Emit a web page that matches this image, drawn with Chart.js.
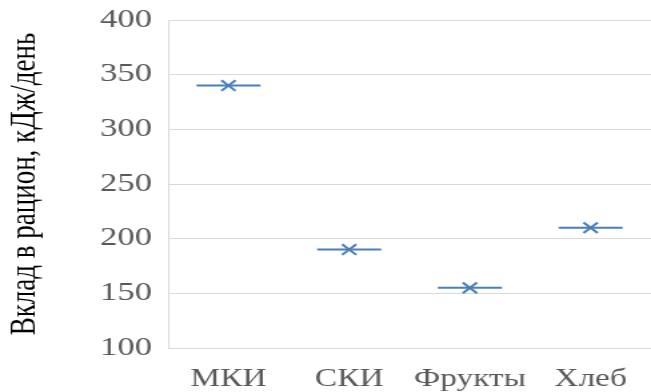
<!DOCTYPE html>
<html>
<head>
<meta charset="utf-8">
<script src="https://cdn.jsdelivr.net/npm/chart.js@4/dist/chart.umd.min.js"></script>
<style>
html,body{margin:0;padding:0;background:#fff;overflow:hidden;}
#wrap{width:488px;height:392px;transform:scaleX(1.334);transform-origin:0 0;}
</style>
</head>
<body>
<div id="wrap"><canvas id="c" width="488" height="392"></canvas></div>
<script>
const categories = ['МКИ', 'СКИ', 'Фрукты', 'Хлеб'];
const values = [340, 190, 155, 210];
const yTicks = [100, 150, 200, 250, 300, 350, 400];
const yTitle = 'Вклад в рацион, кДж/день';

const blue = '#4a7ebb';
const grey = '#595959';
const gridC = '#d9d9d9';
const serif = "'Liberation Serif', 'Times New Roman', serif";

new Chart(document.getElementById('c'), {
  type: 'line',
  data: {
    labels: categories,
    datasets: [
      {
        data: values,
        showLine: false,
        clip: false,
        pointStyle: 'line',
        pointRadius: 24,
        pointBorderWidth: 2,
        pointBorderColor: blue,
        pointBackgroundColor: blue
      },
      {
        data: values,
        showLine: false,
        clip: false,
        pointStyle: 'crossRot',
        pointRadius: 7.5,
        pointBorderWidth: 2,
        pointBorderColor: blue,
        pointBackgroundColor: blue
      }
    ]
  },
  options: {
    responsive: false,
    animation: false,
    events: [],
    layout: { autoPadding: false, padding: { top: 20, right: 0, left: 0, bottom: 0 } },
    plugins: { legend: { display: false }, tooltip: { enabled: false } },
    scales: {
      x: {
        type: 'category',
        offset: true,
        grid: { display: false, drawTicks: false },
        border: { display: true, color: gridC, width: 1 },
        ticks: { color: grey, font: { family: serif, size: 25 }, padding: 16, maxRotation: 0, autoSkip: false },
        afterFit: s => { s.height = 44; s.paddingLeft = 0; s.paddingRight = 0; }
      },
      y: {
        min: 100,
        max: 400,
        afterBuildTicks: s => { s.ticks = yTicks.map(v => ({ value: v })); },
        grid: { color: gridC, lineWidth: 1, drawTicks: false },
        border: { display: true, color: gridC, width: 1 },
        ticks: { color: grey, font: { family: serif, size: 26 }, padding: 12 },
        title: { display: true, text: yTitle, color: '#000', font: { family: serif, size: 27 }, padding: { top: 3, bottom: 0 } },
        afterFit: s => { s.width = 126; s.paddingTop = 0; s.paddingBottom = 0; }
      }
    }
  }
});
</script>
</body>
</html>
